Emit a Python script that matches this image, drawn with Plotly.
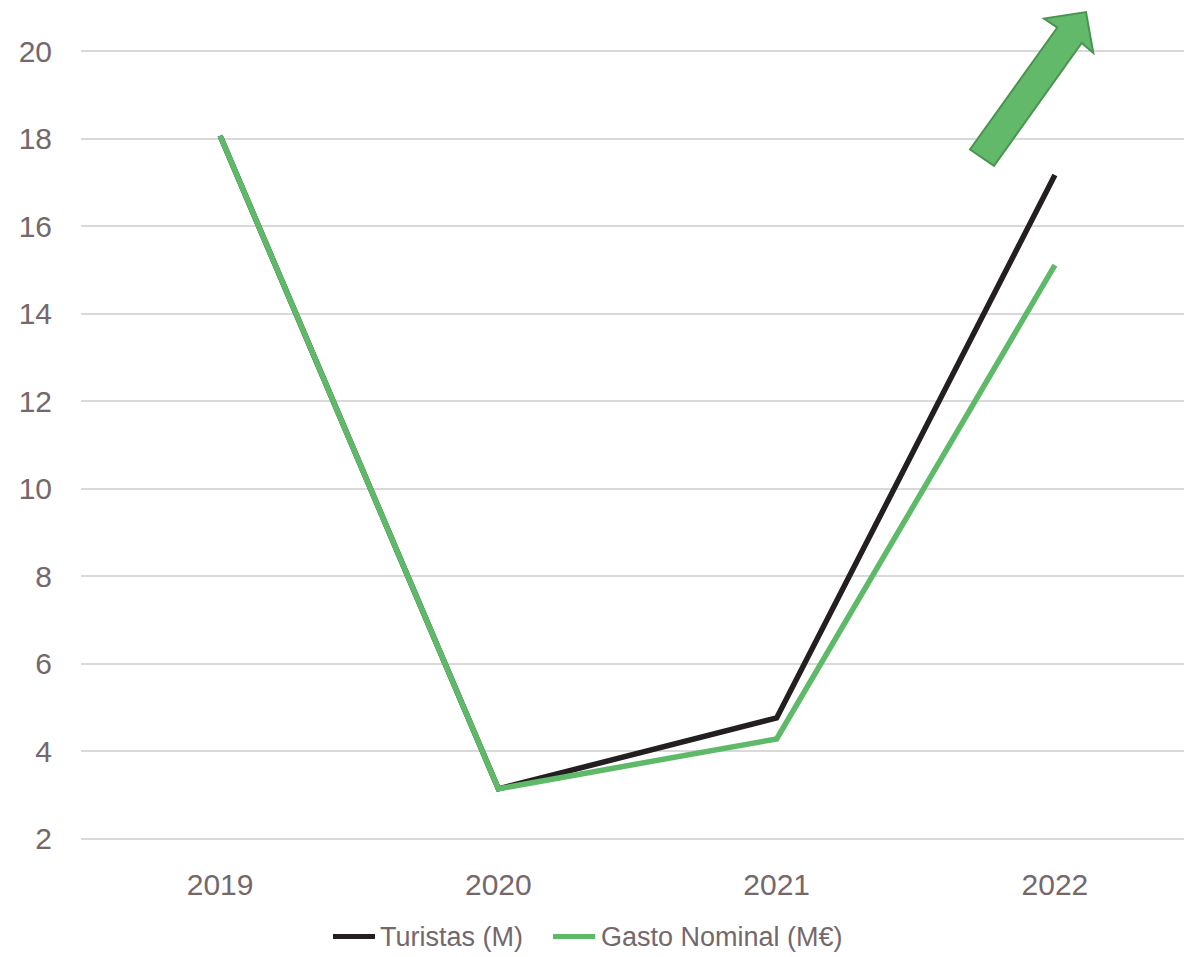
import plotly.graph_objects as go

years = ["2019", "2020", "2021", "2022"]
turistas = [18.07, 3.14, 4.76, 17.17]
gasto = [18.07, 3.14, 4.28, 15.11]
y_ticks = [2, 4, 6, 8, 10, 12, 14, 16, 18, 20]
series_names = ["Turistas (M)", "Gasto Nominal (M€)"]
series_colors = ["#231F20", "#5EB968"]

W, H = 1184, 957
Y0, Y1 = 1.97, 20.03
PX_PER_UNIT = 788 / 18.0
L, R = 81, 0
T = 51 - (Y1 - 20) * PX_PER_UNIT
B = H - (839 + (2 - Y0) * PX_PER_UNIT)
PW = W - L - R
PH = H - T - B


def px2paper(x, y):
    return ((x - L) / PW, (H - B - y) / PH)


arrow_px = [(970, 149.3), (994, 165.7), (1081.7, 42.7), (1093.3, 52.7),
            (1086, 11.7), (1044, 18.3), (1057.3, 27.3)]
pts = [px2paper(x, y) for x, y in arrow_px]
path = "M " + " L ".join(f"{a:.5f},{b:.5f}" for a, b in pts) + " Z"

tick_color = "#74686B"

fig = go.Figure()
for name, vals, col in zip(series_names, [turistas, gasto], series_colors):
    fig.add_trace(go.Scatter(x=years, y=vals, mode="lines", name=name,
                             line=dict(color=col, width=5.5), showlegend=False))

fig.add_shape(type="path", path=path, xref="paper", yref="paper",
              fillcolor="#62B96A", line=dict(color="#4A9451", width=2), layer="above")

# custom legend
legend_items = [(333, 375, 378), (553, 595, 599)]
for (x0, x1, xt), name, col in zip(legend_items, series_names, series_colors):
    a0, yy = px2paper(x0, 937)
    a1, _ = px2paper(x1, 937)
    at, _ = px2paper(xt, 937)
    fig.add_shape(type="line", xref="paper", yref="paper", x0=a0, x1=a1, y0=yy, y1=yy,
                  line=dict(color=col, width=5))
    fig.add_annotation(xref="paper", yref="paper", x=at, y=yy, xanchor="left",
                       yanchor="middle", text=name, showarrow=False,
                       font=dict(family="Liberation Sans, Arial", size=27, color=tick_color))

fig.update_layout(
    width=W, height=H,
    margin=dict(l=L, r=R, t=T, b=B, pad=0, autoexpand=False),
    plot_bgcolor="white", paper_bgcolor="white",
    font=dict(family="Liberation Sans, Arial", color=tick_color, size=30),
    xaxis=dict(type="category", range=[-0.5, 3.464], showgrid=False, zeroline=False,
               showline=False, ticks="", tickfont=dict(size=30, color=tick_color),
               ticklabelstandoff=24),
    yaxis=dict(range=[Y0, Y1], tickvals=y_ticks, showgrid=True, gridcolor="#D9D9D9",
               gridwidth=1.5, zeroline=False, showline=False, ticks="",
               tickfont=dict(size=30, color=tick_color), ticklabelstandoff=28),
    showlegend=False,
)

fig.write_html("out.html")
